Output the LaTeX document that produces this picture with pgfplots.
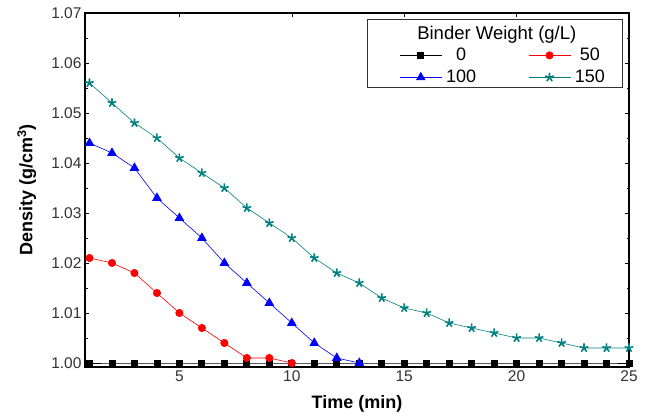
\documentclass[border=0pt]{standalone}
\usepackage{fontspec}
\setmainfont{Liberation Sans}
\usepackage{pgfplots}
\pgfplotsset{compat=1.18}
\definecolor{teal1}{RGB}{0,128,128}
\definecolor{tickgray}{RGB}{51,51,51}
\begin{document}
\begin{tikzpicture}[x=1pt,y=1pt]
\path[use as bounding box] (0,0) rectangle (650,419);
\begin{axis}[
  at={(85pt,52pt)}, anchor=south west,
  width=544pt, height=354pt, scale only axis,
  xmin=0.8, xmax=25, ymin=0.9992, ymax=1.07,
  xtick={5,10,15,20,25},
  ytick={1.00,1.01,1.02,1.03,1.04,1.05,1.06,1.07},
  minor y tick num=1,
  yticklabel style={/pgf/number format/.cd,fixed,fixed zerofill,precision=2},
  /pgf/number format/assume math mode=true,
  tick align=inside,
  major tick length=4pt, minor tick length=2.5pt,
  axis line style={line width=1.2pt},
  tick style={black, line width=0.6pt},
  ticklabel style={font=\fontsize{15.5}{17}\selectfont, text=tickgray},
  xlabel={\textbf{Time (min)}},
  ylabel={\textbf{Density (g/cm$^{\mathbf{3}}$)}},
  label style={font=\fontsize{18}{20}\selectfont},
  xlabel style={at={(axis description cs:0.5,0)}, anchor=center, yshift=-37pt},
  ylabel style={at={(axis description cs:-0.107,0.5)}, anchor=center},
  legend style={at={(axis description cs:0.572,0.912)}, anchor=north west,
    draw=none, fill=none, font=\fontsize{18}{20}\selectfont,
    row sep=4pt, nodes={inner xsep=4pt},
    /tikz/every even column/.append style={column sep=48pt}},
  legend columns=2,
  legend image code/.code={%
    \draw[#1] (0pt,0pt) -- (42pt,0pt);
    \draw[#1, only marks] plot coordinates {(21pt,0pt)};},
]
\addplot[black, mark=square*, mark size=3pt, line width=0.8pt] coordinates {
(1,1.000)(2,1.000)(3,1.000)(4,1.000)(5,1.000)(6,1.000)(7,1.000)(8,1.000)(9,1.000)(10,1.000)
(11,1.000)(12,1.000)(13,1.000)(14,1.000)(15,1.000)(16,1.000)(17,1.000)(18,1.000)(19,1.000)(20,1.000)
(21,1.000)(22,1.000)(23,1.000)(24,1.000)(25,1.000)};
\addlegendentry{0}
\addplot[red, mark=*, mark size=3.7pt, line width=0.6pt] coordinates {
(1,1.021)(2,1.020)(3,1.018)(4,1.014)(5,1.010)(6,1.007)(7,1.004)(8,1.001)(9,1.001)(10,1.000)};
\addlegendentry{50}
\addplot[blue, mark=triangle*, mark size=5pt, line width=0.6pt] coordinates {
(1,1.044)(2,1.042)(3,1.039)(4,1.033)(5,1.029)(6,1.025)(7,1.020)(8,1.016)(9,1.012)(10,1.008)
(11,1.004)(12,1.001)(13,1.000)};
\addlegendentry{100}
\addplot[teal1, mark=star, mark size=4.5pt, mark options={line width=1.6pt}, line width=0.6pt] coordinates {
(1,1.056)(2,1.052)(3,1.048)(4,1.045)(5,1.041)(6,1.038)(7,1.035)(8,1.031)(9,1.028)(10,1.025)
(11,1.021)(12,1.018)(13,1.016)(14,1.013)(15,1.011)(16,1.010)(17,1.008)(18,1.007)(19,1.006)(20,1.005)
(21,1.005)(22,1.004)(23,1.003)(24,1.003)(25,1.003)};
\addlegendentry{150}
\draw[line width=0.8pt, black!80] (axis description cs:0.520,0.983) rectangle (axis description cs:0.987,0.791);
\node[font=\fontsize{18.5}{20}\selectfont] at (axis description cs:0.757,0.940) {Binder Weight (g/L)};
\end{axis}
\end{tikzpicture}
\end{document}
